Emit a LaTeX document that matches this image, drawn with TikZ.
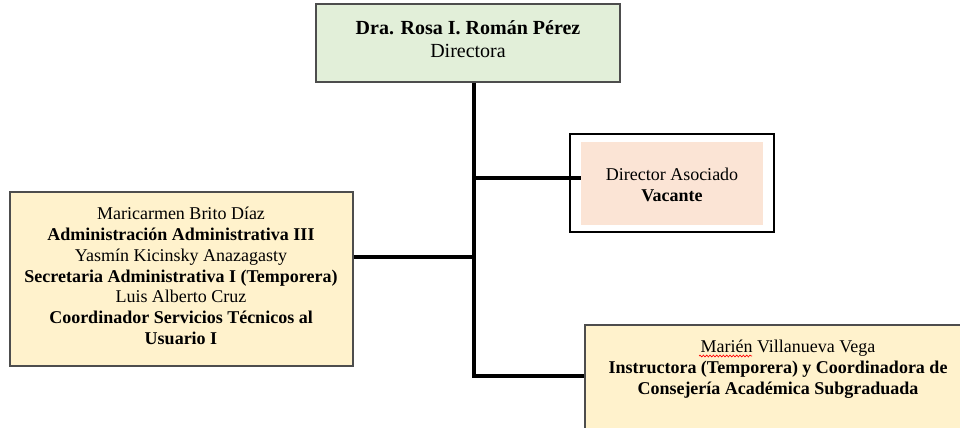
\documentclass[tikz,border=0pt]{standalone}
\usepackage{fontspec}
\setmainfont{Liberation Serif}
\usetikzlibrary{fit,decorations.pathmorphing}
\definecolor{boxgreen}{HTML}{E2EFD9}
\definecolor{boxpink}{HTML}{FBE4D5}
\definecolor{boxyellow}{HTML}{FFF2CC}
\definecolor{boxedge}{HTML}{4D4D4D}
\begin{document}
\begin{tikzpicture}[x=0.75pt,y=-0.75pt,
  box/.style={draw=boxedge, line width=0.9pt, inner sep=0pt},
  conn/.style={line width=3pt, line join=miter},
  txt/.style={align=center, font=\fontsize{13.5}{15.6}\selectfont, inner sep=0pt}]
\useasboundingbox (0,0) rectangle (960,428);
\begin{scope}
\clip (0,0) rectangle (960,428);
% boxes
\node[box, fill=boxgreen, fit={(316,4)(620,82)}] (dir) {};
\node[txt, font=\fontsize{15}{17.3}\selectfont] (dirT) at (468,39) {\textbf{Dra. Rosa I. Román Pérez}\\Directora};
\node[draw=black, line width=1.2pt, inner sep=0pt, fit={(570,134)(774,232)}] (assocO) {};
\node[fill=boxpink, inner sep=0pt, fit={(581,142)(763,225)}] (assoc) {};
\node[txt] (assocT) at (672,185) {Director Asociado\\\textbf{Vacante}};
\node[box, fill=boxyellow, fit={(10,192)(353,366)}] (adm) {};
\node[txt] (admT) at (181,276) {Maricarmen Brito Díaz\\\textbf{Administración Administrativa III}\\Yasmín Kicinsky Anazagasty\\\textbf{Secretaria Administrativa I (Temporera)}\\Luis Alberto Cruz\\\textbf{Coordinador Servicios Técnicos al}\\\textbf{Usuario I}};
\node[box, fill=boxyellow, fit={(585,325)(975,445)}] (bot) {};
\node[txt] (botT) at (778,369) {\hspace*{15pt}Marién Villanueva Vega\\\textbf{Instructora (Temporera) y Coordinadora de}\\\textbf{Consejería Académica Subgraduada}};
\draw[red, line width=0.5pt, decorate, decoration={snake, amplitude=0.7pt, segment length=2.5pt}] (699,356) -- (752,356);
% connectors
\coordinate (tA) at (474,178);
\coordinate (tB) at (474,257);
\coordinate (tC) at (474,376);
\draw[conn] (dir.south -| tA) -- (tC) -- (bot.west |- tC);
\draw[conn] (tA) -- (assoc.west |- tA);
\draw[conn] (adm.east |- tB) -- (tB);
\end{scope}
\end{tikzpicture}
\end{document}
